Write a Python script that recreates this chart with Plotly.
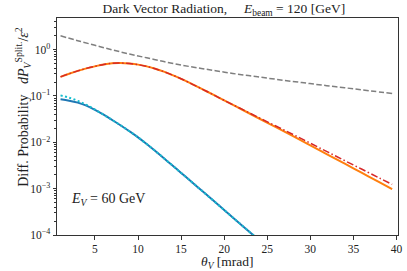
import plotly.graph_objects as go

# ---- data ----
theta_gray = [1, 3, 5, 7, 9, 11, 13, 15, 17, 19, 21, 23, 25, 27, 29, 31, 33, 35, 37, 39.5]
p_gray = [1.99, 1.56, 1.24, 0.99, 0.805, 0.667, 0.553, 0.466, 0.402, 0.350, 0.306, 0.272,
          0.243, 0.217, 0.195, 0.175, 0.158, 0.143, 0.129, 0.113]

theta_or = [1, 2, 3, 4, 5, 6, 7, 8, 9, 10, 11, 12, 13, 14, 15, 16, 17, 18, 19, 20,
            22, 24, 26, 28, 30, 32, 34, 36, 38, 39.5]
p_orange = [0.259, 0.302, 0.348, 0.394, 0.437, 0.480, 0.509, 0.514, 0.501, 0.475, 0.435,
            0.386, 0.335, 0.283, 0.235, 0.192, 0.155, 0.125, 0.1005, 0.0805,
            0.0517, 0.0331, 0.0213, 0.0136, 0.00863, 0.00545, 0.00345, 0.00218, 0.00138, 0.000976]
p_red = [0.259, 0.302, 0.348, 0.394, 0.437, 0.480, 0.509, 0.514, 0.501, 0.475, 0.435,
         0.386, 0.335, 0.283, 0.235, 0.192, 0.155, 0.125, 0.1005, 0.0805,
         0.0525, 0.0343, 0.0225, 0.01476, 0.00957, 0.00620, 0.00402, 0.00262, 0.00170, 0.001237]

theta_bl = [1, 2, 3, 4, 5, 6, 7, 8, 9, 10, 11, 12, 13, 14, 15, 16, 17, 18, 20, 22, 24, 26]
p_blue = [0.0846, 0.0793, 0.0719, 0.0620, 0.0501, 0.0394, 0.0303, 0.0231, 0.0173, 0.0128,
          0.00920, 0.00651, 0.00454, 0.00316, 0.00219, 0.00152, 0.00105, 7.26e-4,
          3.46e-4, 1.65e-4, 7.89e-5, 3.77e-5]
p_cyan = [0.103, 0.0919, 0.0786, 0.0645, 0.0506, 0.0394, 0.0303, 0.0231, 0.0173, 0.0128,
          0.00920, 0.00651, 0.00454, 0.00316, 0.00219, 0.00152, 0.00105, 7.26e-4,
          3.46e-4, 1.65e-4, 7.89e-5, 3.77e-5]

x_ticks = [5, 10, 15, 20, 25, 30, 35, 40]
y_ticks = [1e-4, 1e-3, 1e-2, 1e-1, 1]
y_ticklabels = ["10<sup>−4</sup>", "10<sup>−3</sup>", "10<sup>−2</sup>", "10<sup>−1</sup>", "10<sup>0</sup>"]

FONT = "Liberation Serif"
AX = "#333333"

fig = go.Figure()
fig.add_trace(go.Scatter(x=theta_gray, y=p_gray, mode="lines", line_shape="spline",
                         line=dict(color="#7f7f7f", width=1.5, dash="5.5px,2.4px")))
fig.add_trace(go.Scatter(x=theta_or, y=p_orange, mode="lines", line_shape="spline",
                         line=dict(color="#ff7f0e", width=2)))
fig.add_trace(go.Scatter(x=theta_or, y=p_red, mode="lines", line_shape="spline",
                         line=dict(color="#d62728", width=1.5, dash="7px,2.5px,1.5px,2.5px")))
fig.add_trace(go.Scatter(x=theta_bl, y=p_blue, mode="lines", line_shape="spline",
                         line=dict(color="#1f77b4", width=2)))
fig.add_trace(go.Scatter(x=theta_bl, y=p_cyan, mode="lines", line_shape="spline",
                         line=dict(color="#17becf", width=2, dash="2px,2.5px")))

fig.update_layout(
    width=407, height=271,
    margin=dict(l=57, r=9, t=18, b=36, autoexpand=False),
    paper_bgcolor="white", plot_bgcolor="white",
    showlegend=False,
    font=dict(family=FONT, size=11, color="#222222"),
    title=dict(text="Dark Vector Radiation,&nbsp;&nbsp;&nbsp;&nbsp; <i>E</i><sub>beam</sub> = 120 [GeV]",
               x=0.55, xanchor="center", y=0.968, yanchor="middle",
               font=dict(family=FONT, size=13.5)),
)
fig.update_xaxes(
    range=[0.59, 40.18], tickvals=x_ticks, ticks="outside", ticklen=3.5, tickcolor=AX,
    automargin=False,
    showline=True, linecolor=AX, linewidth=1, mirror=True, showgrid=False, zeroline=False,
    tickfont=dict(family=FONT, size=11.5),
)
fig.update_yaxes(
    type="log", range=[-4, 0.683], tickvals=y_ticks, ticktext=y_ticklabels,
    ticks="outside", ticklen=3.5, tickcolor=AX, automargin=False,
    minor=dict(ticks="outside", ticklen=2, tickcolor=AX, dtick="D1", showgrid=False),
    showline=True, linecolor=AX, linewidth=1, mirror=True, showgrid=False, zeroline=False,
    tickfont=dict(family=FONT, size=11.5),
)
fig.add_annotation(
    text="<i>θ</i><sub><i>V</i></sub> [mrad]",
    xref="paper", yref="paper", x=0.5, y=-0.125, xanchor="center", yanchor="middle",
    showarrow=False, font=dict(family=FONT, size=13.5),
)
fig.add_annotation(
    text="Diff. Probability&nbsp;&nbsp;&nbsp;<i>d</i><i>P</i><sub><i>V</i></sub><sup>Split.</sup>/<i>ε</i><sup>2</sup>",
    xref="paper", yref="paper", x=-0.1, y=0.59, xanchor="center", yanchor="middle",
    textangle=-90, showarrow=False, font=dict(family=FONT, size=14),
)
fig.add_annotation(
    text="<i>E</i><sub><i>V</i></sub> = 60 GeV",
    xref="paper", yref="paper", x=0.036, y=0.165, xanchor="left", yanchor="middle",
    showarrow=False, font=dict(family=FONT, size=14),
)
fig.write_html("out.html", config={"displayModeBar": False},
               post_script="document.body.style.margin='0';document.body.style.overflow='hidden';")
